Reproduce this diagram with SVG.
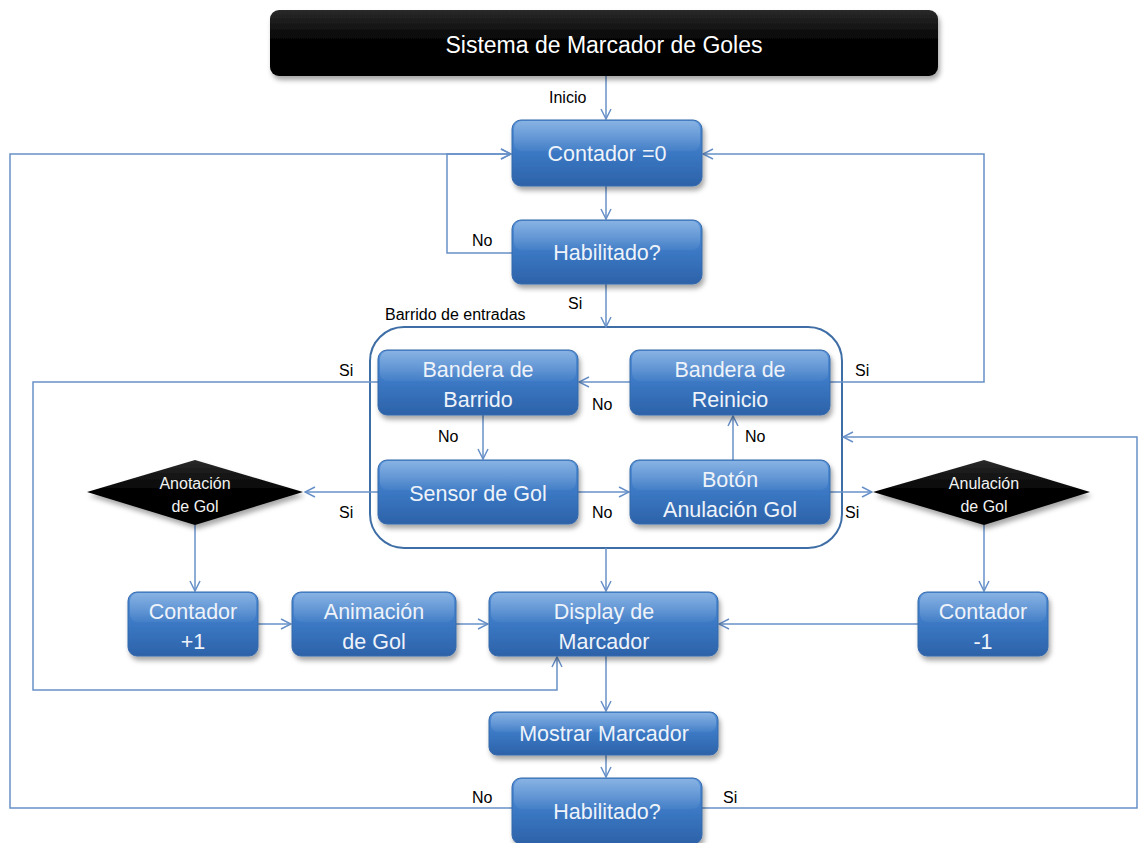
<svg xmlns="http://www.w3.org/2000/svg" width="1143" height="843" viewBox="0 0 1143 843">
  <defs>
    <linearGradient id="blueFill" x1="0" y1="0" x2="0" y2="1">
      <stop offset="0" stop-color="#5592d8"/>
      <stop offset="0.5" stop-color="#3b78c4"/>
      <stop offset="1" stop-color="#2c62a8"/>
    </linearGradient>
    <linearGradient id="gloss" x1="0" y1="0" x2="0" y2="1">
      <stop offset="0" stop-color="#ffffff" stop-opacity="0.3"/>
      <stop offset="1" stop-color="#ffffff" stop-opacity="0.04"/>
    </linearGradient>
    <linearGradient id="blackFill" x1="0" y1="0" x2="0" y2="1">
      <stop offset="0" stop-color="#2a2a2a"/>
      <stop offset="0.45" stop-color="#050505"/>
      <stop offset="1" stop-color="#000000"/>
    </linearGradient>
    <filter id="shadow" x="-10%" y="-10%" width="125%" height="140%">
      <feDropShadow dx="2" dy="4" stdDeviation="2.5" flood-color="#000000" flood-opacity="0.35"/>
    </filter>
    <marker id="arrow" viewBox="0 0 12 12" refX="11" refY="6" markerWidth="12" markerHeight="12" markerUnits="userSpaceOnUse" orient="auto">
      <path d="M1,1 L11,6 L1,11" fill="none" stroke="#6790c8" stroke-width="1.5"/>
    </marker>
    <style>
      .box { fill: url(#blueFill); stroke: #3468ab; stroke-width: 1; filter: url(#shadow); }
      .shine { fill: url(#gloss); }
      .diamond { fill: url(#blackFill); filter: url(#shadow); }
      .node-text { font-family: "Liberation Sans", Arial, sans-serif; font-size: 21.5px; fill: #eef3fa; text-anchor: middle; }
      .dia-text { font-family: "Liberation Sans", Arial, sans-serif; font-size: 16px; fill: #f2f2f2; text-anchor: middle; }
      .label { font-family: "Liberation Sans", Arial, sans-serif; font-size: 16px; fill: #000000; }
      .wire { fill: none; stroke: #6790c8; stroke-width: 1.5; }
      .arrowed { marker-end: url(#arrow); }
    </style>
  </defs>

  <rect width="1143" height="843" fill="#ffffff"/>

  <!-- scan-inputs container -->
  <g id="barrido">
    <rect x="370" y="327" width="472" height="221" rx="34" fill="none" stroke="#3e6ea5" stroke-width="2"/>
    <text class="label" x="385" y="320" font-size="15.5">Barrido de entradas</text>
  </g>

  <!-- connectors -->
  <g id="connectors">
    <path class="wire arrowed" d="M606,76 V119"/>
    <path class="wire arrowed" d="M606,186 V219"/>
    <path class="wire arrowed" d="M512,253 H447 V154 H511"/>
    <path class="wire arrowed" d="M606,284 V327"/>
    <path class="wire arrowed" d="M630,382 H579"/>
    <path class="wire arrowed" d="M483,415 V459"/>
    <path class="wire arrowed" d="M578,492 H629"/>
    <path class="wire arrowed" d="M733,460 V416"/>
    <path class="wire arrowed" d="M830,382 H984 V154 H703"/>
    <path class="wire arrowed" d="M378,382 H33 V690 H557 V657"/>
    <path class="wire arrowed" d="M378,492 H305"/>
    <path class="wire arrowed" d="M830,492 H872"/>
    <path class="wire arrowed" d="M195,525 V591"/>
    <path class="wire arrowed" d="M984,525 V591"/>
    <path class="wire arrowed" d="M258,624 H291"/>
    <path class="wire arrowed" d="M456,624 H488"/>
    <path class="wire arrowed" d="M918,624 H719"/>
    <path class="wire arrowed" d="M606,548 V591"/>
    <path class="wire arrowed" d="M606,656 V711"/>
    <path class="wire arrowed" d="M606,755 V777"/>
    <path class="wire arrowed" d="M512,808 H10 V154 H511"/>
    <path class="wire arrowed" d="M702,808 H1137 V437 H843"/>

    <text class="label" x="549" y="103">Inicio</text>
    <text class="label" x="472" y="246">No</text>
    <text class="label" x="568" y="309">Si</text>
    <text class="label" x="592" y="410">No</text>
    <text class="label" x="438" y="442">No</text>
    <text class="label" x="592" y="518">No</text>
    <text class="label" x="745" y="442">No</text>
    <text class="label" x="855" y="376">Si</text>
    <text class="label" x="339" y="376">Si</text>
    <text class="label" x="339" y="518">Si</text>
    <text class="label" x="845" y="518">Si</text>
    <text class="label" x="472" y="803">No</text>
    <text class="label" x="723" y="803">Si</text>
  </g>

  <!-- title -->
  <g id="titulo">
    <rect x="270" y="10" width="668" height="66" rx="9" fill="url(#blackFill)" filter="url(#shadow)"/>
    <text x="604" y="53" font-family="'Liberation Sans', Arial, sans-serif" font-size="23" fill="#ffffff" text-anchor="middle">Sistema de Marcador  de Goles</text>
  </g>

  <g id="contador0">
    <rect class="box" x="512" y="120" width="190" height="66" rx="9"/>
    <rect class="shine" x="514" y="121" width="186" height="30" rx="8"/>
    <text class="node-text" x="607" y="161">Contador =0</text>
  </g>

  <g id="habilitado1">
    <rect class="box" x="512" y="220" width="190" height="64" rx="9"/>
    <rect class="shine" x="514" y="221" width="186" height="29" rx="8"/>
    <text class="node-text" x="607" y="260">Habilitado?</text>
  </g>

  <g id="bandera-barrido">
    <rect class="box" x="378" y="350" width="200" height="65" rx="9"/>
    <rect class="shine" x="380" y="351" width="196" height="30" rx="8"/>
    <text class="node-text" x="478" y="377">Bandera de</text>
    <text class="node-text" x="478" y="407">Barrido</text>
  </g>

  <g id="bandera-reinicio">
    <rect class="box" x="630" y="350" width="200" height="65" rx="9"/>
    <rect class="shine" x="632" y="351" width="196" height="30" rx="8"/>
    <text class="node-text" x="730" y="377">Bandera de</text>
    <text class="node-text" x="730" y="407">Reinicio</text>
  </g>

  <g id="sensor-gol">
    <rect class="box" x="378" y="460" width="200" height="64" rx="9"/>
    <rect class="shine" x="380" y="461" width="196" height="29" rx="8"/>
    <text class="node-text" x="478" y="501">Sensor de Gol</text>
  </g>

  <g id="boton-anulacion">
    <rect class="box" x="630" y="460" width="200" height="64" rx="9"/>
    <rect class="shine" x="632" y="461" width="196" height="29" rx="8"/>
    <text class="node-text" x="730" y="487">Botón</text>
    <text class="node-text" x="730" y="517">Anulación Gol</text>
  </g>

  <g id="anotacion-gol">
    <polygon class="diamond" points="195,460 303,492 195,525 87,492"/>
    <text class="dia-text" x="195" y="489">Anotación</text>
    <text class="dia-text" x="195" y="512">de Gol</text>
  </g>

  <g id="anulacion-gol">
    <polygon class="diamond" points="984,460 1090,492 984,525 873,492"/>
    <text class="dia-text" x="984" y="489">Anulación</text>
    <text class="dia-text" x="984" y="512">de Gol</text>
  </g>

  <g id="contador-mas">
    <rect class="box" x="128" y="592" width="130" height="64" rx="9"/>
    <rect class="shine" x="130" y="593" width="126" height="29" rx="8"/>
    <text class="node-text" x="193" y="619">Contador</text>
    <text class="node-text" x="193" y="649">+1</text>
  </g>

  <g id="animacion-gol">
    <rect class="box" x="292" y="592" width="164" height="64" rx="9"/>
    <rect class="shine" x="294" y="593" width="160" height="29" rx="8"/>
    <text class="node-text" x="374" y="619">Animación</text>
    <text class="node-text" x="374" y="649">de Gol</text>
  </g>

  <g id="display-marcador">
    <rect class="box" x="489" y="592" width="229" height="64" rx="9"/>
    <rect class="shine" x="491" y="593" width="225" height="29" rx="8"/>
    <text class="node-text" x="604" y="619">Display de</text>
    <text class="node-text" x="604" y="649">Marcador</text>
  </g>

  <g id="contador-menos">
    <rect class="box" x="918" y="592" width="130" height="64" rx="9"/>
    <rect class="shine" x="920" y="593" width="126" height="29" rx="8"/>
    <text class="node-text" x="983" y="619">Contador</text>
    <text class="node-text" x="983" y="649">-1</text>
  </g>

  <g id="mostrar-marcador">
    <rect class="box" x="489" y="712" width="229" height="43" rx="8"/>
    <rect class="shine" x="491" y="713" width="225" height="19" rx="7"/>
    <text class="node-text" x="604" y="741">Mostrar Marcador</text>
  </g>

  <g id="habilitado2">
    <rect class="box" x="512" y="778" width="190" height="66" rx="9"/>
    <rect class="shine" x="514" y="779" width="186" height="30" rx="8"/>
    <text class="node-text" x="607" y="819">Habilitado?</text>
  </g>
</svg>
